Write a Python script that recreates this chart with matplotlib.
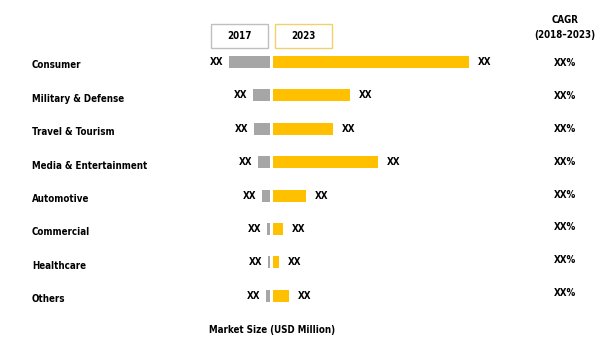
import matplotlib
matplotlib.use("Agg")
import matplotlib.pyplot as plt
from matplotlib.patches import Rectangle

plt.rcParams['font.family'] = ['DejaVu Sans']
plt.rcParams['font.stretch'] = 'condensed'

categories = ['Consumer', 'Military & Defense', 'Travel & Tourism', 'Media & Entertainment',
              'Automotive', 'Commercial', 'Healthcare', 'Others']
size_2017 = [41, 17, 16, 12, 8, 3, 2, 4]
size_2023 = [196, 77, 60, 105, 33, 10, 6, 16]
val_labels_2017 = ['XX'] * 8
val_labels_2023 = ['XX'] * 8
cagr_labels = ['XX%'] * 8
years = ['2017', '2023']

gray = '#A6A6A6'
yellow = '#FFC000'

fig = plt.figure(figsize=(6.1, 3.54), dpi=100)
ax = fig.add_axes([0, 0, 1, 1])
ax.set_xlim(-271, 339)
ax.set_ylim(8.743, -1.856)
ax.axis('off')

y = list(range(len(categories)))
ax.barh(y, [-v for v in size_2017], left=-1, height=0.36, color=gray, edgecolor='none')
ax.barh(y, size_2023, left=2, height=0.36, color=yellow, edgecolor='none')

fs = 7
txt = dict(fontsize=fs, fontweight='bold', fontstretch='condensed')
for i, cat in enumerate(categories):
    ax.text(-239, i + 0.1, cat, ha='left', va='center', **txt)
    ax.text(-1 - size_2017[i] - 6, i, val_labels_2017[i], ha='right', va='center', **txt)
    ax.text(2 + size_2023[i] + 9, i, val_labels_2023[i], ha='left', va='center', **txt)
    ax.text(294, i + 0.03 - 0.015 * i, cagr_labels[i], ha='center', va='center', **txt)

# legend boxes
for x0, lab, ec in [(-60, years[0], '#BFBFBF'), (4, years[1], '#F2D06B')]:
    ax.add_patch(Rectangle((x0, -1.13), 57, 0.72, fill=False, edgecolor=ec, linewidth=1))
    ax.text(x0 + 28.5, -0.77, lab, ha='center', va='center', **txt)

ax.text(294, -1.257, 'CAGR', ha='center', va='center', **txt)
ax.text(294, -0.80, '(2018\u20132023)', ha='center', va='center', **txt)
ax.text(1, 8.03, 'Market Size (USD Million)', ha='center', va='center', **txt)

fig.savefig('out.png', dpi=100, facecolor='white')
